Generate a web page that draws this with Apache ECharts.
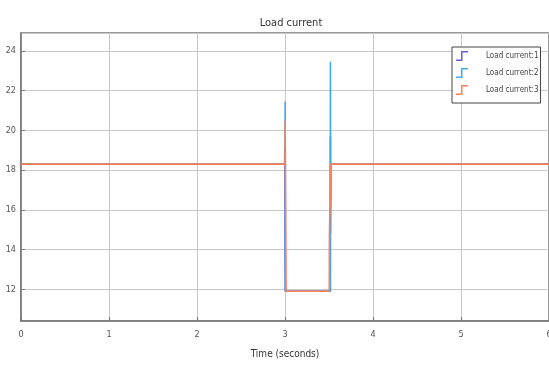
<!DOCTYPE html>
<html>
<head>
<meta charset="utf-8">
<script src="https://cdn.jsdelivr.net/npm/echarts@6/dist/echarts.min.js"></script>
<style>
  html, body { margin: 0; padding: 0; background: #fff; }
  #chart { width: 549px; height: 367px; }
</style>
</head>
<body>
<div id="chart"></div>
<script>
// Scope signals: load current of the three phases (time in seconds)
const seriesNames = ['Load current:1', 'Load current:2', 'Load current:3'];
const seriesColors = ['#6b5ce6', '#3fa9f5', '#ff7f50'];

const time1 = [0, 2.996, 2.998, 3.0, 3.003, 3.515, 3.516, 3.518, 3.52, 6];
const current1 = [18.3, 18.3, 19.1, 14.0, 11.9, 11.9, 19.7, 16.2, 18.3, 18.3];

const time2 = [0, 3.0, 3.002, 3.005, 3.515, 3.516, 3.519, 3.521, 6];
const current2 = [18.3, 18.3, 21.45, 11.9, 11.9, 23.45, 14.8, 18.3, 18.3];

const time3 = [0, 3.0, 3.002, 3.012, 3.503, 3.505, 3.522, 6];
const current3 = [18.3, 18.3, 20.5, 11.9, 11.9, 14.7, 18.3, 18.3];

const xTicks = { min: 0, max: 6, step: 1 };
const yRange = { min: 10.4, max: 24.9, step: 2 };

const font = "'Liberation Sans Narrow', 'DejaVu Sans Condensed', 'Liberation Sans', sans-serif";
const stepIcon = 'path://M0,8.5 L5,8.5 L5,0 L12,0 L12,1.5 L6.5,1.5 L6.5,10 L0,10 Z';

function pairs(t, v) { return t.map((x, i) => [x, v[i]]); }
const seriesData = [pairs(time1, current1), pairs(time2, current2), pairs(time3, current3)];

const chart = echarts.init(document.getElementById('chart'), null, { renderer: 'canvas' });
chart.setOption({
  animation: false,
  backgroundColor: '#ffffff',
  title: {
    text: 'Load current',
    left: 286, top: 13, textAlign: 'center',
    textStyle: { fontFamily: font, fontSize: 11, fontWeight: 'normal', color: '#333' }
  },
  legend: {
    orient: 'vertical',
    left: 452, top: 47,
    padding: [4, 2, 8, 4],
    itemWidth: 14, itemHeight: 10, itemGap: 7,
    backgroundColor: '#fff',
    borderColor: '#444', borderWidth: 1,
    textStyle: { fontFamily: font, fontSize: 8, color: '#444', padding: [0, 0, 0, 12] },
    data: seriesNames.map((n, i) => ({ name: n, icon: stepIcon, itemStyle: { color: seriesColors[i] } }))
  },
  grid: {
    left: 21, right: 0, top: 33, bottom: 46,
    outerBoundsMode: 'none', containLabel: false,
    show: true, borderColor: '#777', borderWidth: 1.5, backgroundColor: '#fff'
  },
  xAxis: {
    type: 'value',
    min: xTicks.min, max: xTicks.max, interval: xTicks.step,
    name: 'Time (seconds)', nameLocation: 'middle', nameGap: 28,
    nameTextStyle: { fontFamily: font, fontSize: 10, color: '#333' },
    axisLine: { show: true, lineStyle: { color: '#777', width: 1.5 } },
    axisTick: { show: true, inside: true, length: 4, lineStyle: { color: '#777' } },
    axisLabel: { fontFamily: font, fontSize: 9, color: '#555', margin: 9 },
    splitLine: { show: true, lineStyle: { color: '#c8c8c8', width: 1 } }
  },
  yAxis: {
    type: 'value',
    min: yRange.min, max: yRange.max,
    minInterval: yRange.step, maxInterval: yRange.step, splitNumber: 7,
    axisLine: { show: true, lineStyle: { color: '#777', width: 1.5 } },
    axisTick: { show: true, inside: true, length: 4, lineStyle: { color: '#777' } },
    axisLabel: { fontFamily: font, fontSize: 9, color: '#555', margin: 5, showMinLabel: false, showMaxLabel: false },
    splitLine: { show: true, lineStyle: { color: '#c8c8c8', width: 1 } }
  },
  series: seriesNames.map((n, i) => ({
    name: n,
    type: 'line',
    data: seriesData[i],
    showSymbol: false,
    color: seriesColors[i],
    lineStyle: { width: 1.6, color: seriesColors[i] },
    z: 2 + i
  }))
});
</script>
</body>
</html>
